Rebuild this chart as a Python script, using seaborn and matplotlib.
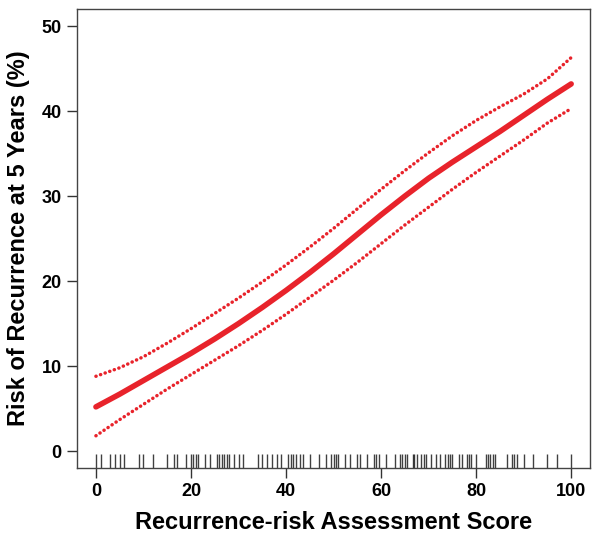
import matplotlib
matplotlib.use("Agg")
import matplotlib.pyplot as plt
import seaborn as sns
import pandas as pd

# ---- data ----
score = [0, 5, 10, 15, 20, 25, 30, 35, 40, 45, 50, 55, 60, 65, 70, 75, 80, 85, 90, 95, 100]
risk = [5.2, 6.7, 8.3, 9.9, 11.5, 13.2, 15.0, 16.9, 18.9, 21.0, 23.2, 25.5, 27.8, 30.0, 32.1, 34.0, 35.8, 37.6, 39.5, 41.4, 43.2]
upper = [8.8, 9.8, 11.1, 12.7, 14.4, 16.2, 18.0, 19.9, 21.9, 24.0, 26.2, 28.5, 30.8, 33.0, 35.1, 37.1, 38.9, 40.5, 42.0, 43.8, 46.3]
lower = [1.8, 3.7, 5.5, 7.3, 9.0, 10.7, 12.4, 14.2, 16.1, 18.1, 20.1, 22.2, 24.4, 26.6, 28.7, 30.8, 32.8, 34.7, 36.6, 38.6, 40.3]
rug_scores = [0, 1, 3, 4, 5, 6, 9, 10, 12, 15, 16.5, 17, 19, 20, 20.5, 21, 21.5, 23, 24, 25.5, 26,
              26.5, 27, 27.5, 28, 29, 30, 31, 34, 35, 36, 37, 38, 39, 40.5, 41, 41.5, 42, 43, 43.5,
              45, 47, 48.5, 49.5, 50, 50.5, 51, 52.5, 53.5, 55, 55.5, 57, 58.5, 59, 59.5, 61, 63,
              64, 64.5, 65, 65.5, 66.7, 67, 67.5, 68.5, 69, 69.5, 70.5, 71.5, 72.5, 73.5, 74, 74.5,
              75, 76.5, 77, 78, 78.5, 79, 80, 82, 82.5, 83, 83.5, 84, 86.5, 87.5, 88, 88.5, 90, 92,
              95, 97, 100]
x_ticks = [0, 20, 40, 60, 80, 100]
y_ticks = [0, 10, 20, 30, 40, 50]

sns.set_theme(style="ticks")
plt.rcParams['font.family'] = ['Liberation Sans', 'DejaVu Sans']
plt.rcParams['text.color'] = 'black'
plt.rcParams['axes.labelcolor'] = 'black'
plt.rcParams['xtick.color'] = 'black'
plt.rcParams['ytick.color'] = 'black'

red = "#E8232B"
df = pd.DataFrame({"score": score, "risk": risk, "upper": upper, "lower": lower})
rug = pd.DataFrame({"score": rug_scores})

fig = plt.figure(figsize=(6.01, 5.38), dpi=100)
ax = fig.add_axes([0.128, 0.130, 0.854, 0.853])

sns.lineplot(data=df, x="score", y="risk", color=red, lw=4.0, ax=ax,
             solid_capstyle="round", solid_joinstyle="round")
for col in ["upper", "lower"]:
    sns.lineplot(data=df, x="score", y=col, color=red, lw=2.5, ax=ax,
                 linestyle=(0, (0.05, 1.35)), dash_capstyle="round")

sns.rugplot(data=rug, x="score", height=0.03, color="black", lw=0.7, alpha=0.75, ax=ax)

ax.set_xlim(-4, 104)
ax.set_ylim(-2, 52)
ax.set_xticks(x_ticks)
ax.set_yticks(y_ticks)
ax.set_xticklabels([str(t) for t in x_ticks], fontsize=13, fontweight="bold")
ax.set_yticklabels([str(t) for t in y_ticks], fontsize=13, fontweight="bold")
ax.tick_params(axis="both", direction="out", length=7, width=1.0, color="#333333", pad=4)
for s in ax.spines.values():
    s.set_visible(True)
    s.set_color("#444444")
    s.set_linewidth(1.0)
ax.set_xlabel("Recurrence-risk Assessment Score", fontsize=17, fontweight="bold", labelpad=8)
ax.set_ylabel("Risk of Recurrence at 5 Years (%)", fontsize=17, fontweight="bold", labelpad=8)
ax.grid(False)

fig.savefig("out.png", dpi=100)
